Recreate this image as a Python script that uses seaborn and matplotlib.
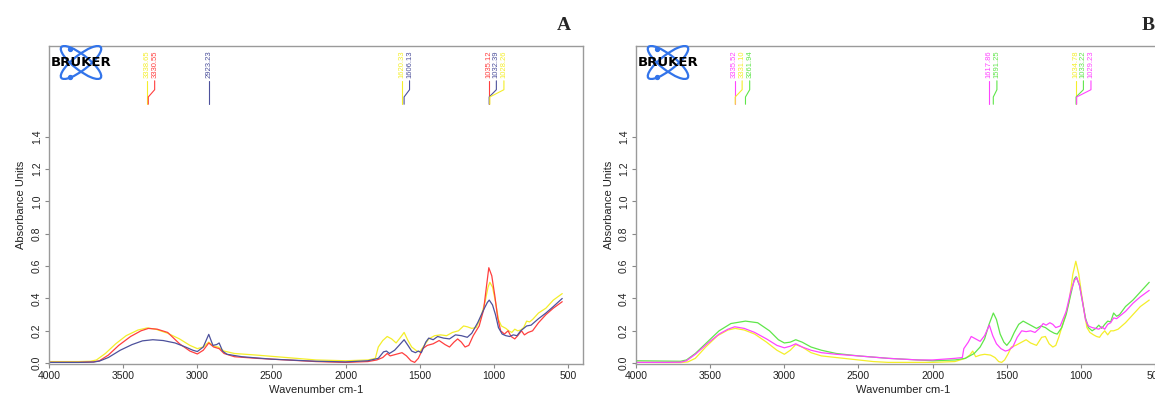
import numpy as np
import pandas as pd
import matplotlib
matplotlib.use("Agg")
import matplotlib.pyplot as plt
import seaborn as sns
from matplotlib.patches import Ellipse

# ---- Panel A spectra ----
A_YELLOW_WN = [4000, 3800, 3720, 3680, 3620, 3550, 3480, 3400, 3338, 3280,
               3200, 3120, 3050, 3000, 2960, 2923, 2890, 2860, 2820, 2750,
               2600, 2400, 2200, 2000, 1850, 1800, 1780, 1750, 1720, 1690,
               1660, 1630, 1606, 1580, 1555, 1520, 1500, 1470, 1440, 1400,
               1360, 1320, 1280, 1240, 1205, 1180, 1150, 1120, 1090, 1060,
               1040, 1028, 1010, 990, 970, 950, 920, 900, 880, 860,
               840, 820, 800, 780, 760, 740, 700, 650, 600, 540]
A_YELLOW_ABS = [0.01, 0.01, 0.012, 0.02, 0.06, 0.12, 0.17, 0.205, 0.218, 0.21,
                0.185, 0.15, 0.11, 0.09, 0.1, 0.13, 0.105, 0.1, 0.075, 0.06,
                0.05, 0.035, 0.02, 0.015, 0.02, 0.03, 0.1, 0.14, 0.165, 0.15,
                0.125, 0.16, 0.19, 0.14, 0.1, 0.075, 0.07, 0.11, 0.15, 0.17,
                0.175, 0.17, 0.19, 0.2, 0.23, 0.225, 0.215, 0.22, 0.28, 0.38,
                0.47, 0.5, 0.47, 0.38, 0.27, 0.23, 0.215, 0.2, 0.19, 0.21,
                0.2, 0.205, 0.22, 0.26, 0.255, 0.27, 0.31, 0.34, 0.39, 0.43]

A_RED_WN = [4000, 3800, 3700, 3660, 3600, 3530, 3450, 3380, 3330, 3270,
            3200, 3120, 3050, 3000, 2960, 2923, 2890, 2853, 2820, 2750,
            2600, 2400, 2200, 2000, 1850, 1790, 1750, 1720, 1700, 1660,
            1620, 1590, 1560, 1535, 1510, 1480, 1450, 1410, 1370, 1330,
            1300, 1270, 1245, 1220, 1195, 1170, 1140, 1100, 1070, 1050,
            1035, 1015, 995, 975, 955, 930, 905, 885, 860, 840,
            815, 795, 770, 740, 700, 650, 600, 540]
A_RED_ABS = [0.005, 0.005, 0.008, 0.015, 0.05, 0.11, 0.165, 0.2, 0.215, 0.21,
             0.19, 0.12, 0.075, 0.057, 0.08, 0.125, 0.1, 0.09, 0.06, 0.04,
             0.03, 0.02, 0.01, 0.005, 0.01, 0.02, 0.035, 0.06, 0.045, 0.055,
             0.065, 0.045, 0.015, 0.005, 0.03, 0.09, 0.11, 0.12, 0.14, 0.115,
             0.1, 0.13, 0.15, 0.13, 0.1, 0.11, 0.17, 0.23, 0.33, 0.48,
             0.59, 0.54, 0.42, 0.28, 0.2, 0.18, 0.2, 0.165, 0.15, 0.17,
             0.2, 0.175, 0.19, 0.2, 0.25, 0.3, 0.34, 0.38]

A_NAVY_WN = [4000, 3800, 3700, 3660, 3600, 3520, 3440, 3370, 3300, 3230,
             3150, 3080, 3030, 3000, 2960, 2923, 2895, 2870, 2853, 2830,
             2800, 2700, 2500, 2200, 2000, 1850, 1780, 1745, 1725, 1705,
             1670, 1640, 1606, 1580, 1555, 1530, 1510, 1490, 1460, 1440,
             1410, 1380, 1340, 1300, 1260, 1220, 1180, 1150, 1110, 1070,
             1045, 1032, 1010, 990, 970, 945, 920, 895, 870, 845,
             820, 800, 780, 750, 700, 650, 600, 540]
A_NAVY_ABS = [0.005, 0.005, 0.007, 0.013, 0.035, 0.08, 0.115, 0.138, 0.145, 0.14,
              0.125, 0.1, 0.08, 0.072, 0.1, 0.178, 0.11, 0.115, 0.125, 0.075,
              0.055, 0.04, 0.025, 0.012, 0.008, 0.015, 0.03, 0.07, 0.075, 0.06,
              0.08, 0.11, 0.145, 0.11, 0.075, 0.065, 0.075, 0.065, 0.13, 0.155,
              0.145, 0.165, 0.155, 0.15, 0.175, 0.17, 0.16, 0.185, 0.25, 0.33,
              0.375, 0.39, 0.36, 0.3, 0.22, 0.18, 0.17, 0.165, 0.175, 0.17,
              0.2, 0.215, 0.23, 0.235, 0.275, 0.31, 0.35, 0.4]

# ---- Panel B spectra ----
B_GREEN_WN = [4000, 3800, 3700, 3660, 3600, 3520, 3440, 3360, 3262, 3180,
              3100, 3040, 3000, 2960, 2923, 2880, 2820, 2750, 2650, 2500,
              2300, 2100, 2000, 1850, 1780, 1720, 1680, 1650, 1620, 1591,
              1570, 1545, 1520, 1500, 1475, 1450, 1420, 1390, 1360, 1330,
              1300, 1270, 1240, 1210, 1180, 1160, 1130, 1100, 1070, 1045,
              1033, 1010, 990, 970, 950, 925, 900, 880, 860, 840,
              820, 800, 780, 760, 740, 700, 650, 600, 540]
B_GREEN_ABS = [0.015, 0.013, 0.012, 0.02, 0.06, 0.13, 0.2, 0.245, 0.26, 0.25,
               0.2, 0.145, 0.125, 0.13, 0.145, 0.13, 0.1, 0.08, 0.06, 0.045,
               0.03, 0.02, 0.015, 0.02, 0.03, 0.06, 0.1, 0.15, 0.24, 0.31,
               0.27, 0.18, 0.13, 0.11, 0.14, 0.19, 0.24, 0.26, 0.245, 0.23,
               0.215, 0.23, 0.22, 0.2, 0.185, 0.18, 0.22, 0.3, 0.42, 0.52,
               0.535, 0.48, 0.38, 0.28, 0.22, 0.2, 0.215, 0.235, 0.215, 0.24,
               0.26, 0.255, 0.31, 0.29, 0.3, 0.35, 0.39, 0.44, 0.5]

B_MAGENTA_WN = [4000, 3800, 3700, 3660, 3600, 3520, 3440, 3380, 3335, 3270,
                3200, 3120, 3050, 3000, 2960, 2923, 2880, 2820, 2750, 2650,
                2500, 2300, 2100, 2000, 1850, 1800, 1790, 1760, 1740, 1710,
                1680, 1650, 1618, 1595, 1570, 1540, 1510, 1490, 1460, 1430,
                1400, 1370, 1340, 1310, 1280, 1255, 1235, 1210, 1190, 1170,
                1140, 1100, 1070, 1045, 1029, 1010, 990, 970, 950, 925,
                900, 880, 860, 840, 820, 800, 780, 760, 740, 700,
                650, 600, 540]
B_MAGENTA_ABS = [0.005, 0.005, 0.006, 0.015, 0.055, 0.12, 0.18, 0.21, 0.225, 0.215,
                 0.19, 0.15, 0.11, 0.095, 0.105, 0.12, 0.1, 0.08, 0.065, 0.055,
                 0.045, 0.03, 0.02, 0.02, 0.03, 0.035, 0.09, 0.13, 0.165, 0.15,
                 0.135, 0.17, 0.235, 0.17, 0.12, 0.09, 0.075, 0.08, 0.1, 0.16,
                 0.2, 0.195, 0.2, 0.19, 0.215, 0.245, 0.235, 0.25, 0.24, 0.22,
                 0.23, 0.32, 0.44, 0.51, 0.53, 0.48, 0.38, 0.27, 0.23, 0.22,
                 0.215, 0.21, 0.225, 0.21, 0.24, 0.25, 0.28, 0.275, 0.29, 0.32,
                 0.37, 0.41, 0.45]

B_YELLOW_WN = [4000, 3800, 3700, 3650, 3600, 3530, 3450, 3380, 3331, 3270,
               3200, 3120, 3050, 3000, 2960, 2923, 2880, 2820, 2750, 2650,
               2500, 2400, 2300, 2000, 1850, 1780, 1750, 1730, 1710, 1680,
               1650, 1610, 1580, 1555, 1535, 1515, 1490, 1470, 1440, 1400,
               1370, 1340, 1300, 1265, 1240, 1215, 1190, 1170, 1150, 1120,
               1080, 1055, 1035, 1015, 995, 975, 960, 940, 915, 895,
               875, 860, 840, 820, 800, 780, 750, 700, 650, 600,
               540]
B_YELLOW_ABS = [0.005, 0.004, 0.004, 0.008, 0.03, 0.1, 0.17, 0.205, 0.215, 0.205,
                0.18, 0.13, 0.08, 0.055, 0.08, 0.115, 0.1, 0.065, 0.045, 0.035,
                0.02, 0.01, 0.005, 0.005, 0.01, 0.03, 0.05, 0.075, 0.04, 0.05,
                0.055, 0.05, 0.035, 0.01, 0.005, 0.02, 0.06, 0.1, 0.11, 0.13,
                0.145, 0.125, 0.11, 0.16, 0.165, 0.12, 0.1, 0.11, 0.16, 0.25,
                0.38, 0.55, 0.63, 0.55, 0.42, 0.3, 0.22, 0.19, 0.175, 0.165,
                0.16, 0.18, 0.2, 0.175, 0.2, 0.2, 0.21, 0.25, 0.3, 0.35,
                0.39]

# ---- peak picks shown at the top of each panel ----
A_PEAK_GROUPS = [[3338.65, 3330.55], [2923.23], [1620.33, 1606.13],
                 [1035.12, 1032.39, 1028.26]]
A_PEAK_SERIES = [["yellow", "red"], ["navy"], ["yellow", "navy"],
                 ["red", "navy", "yellow"]]
B_PEAK_GROUPS = [[3335.52, 3331.10, 3261.94], [1617.86, 1591.25],
                 [1034.78, 1033.22, 1029.23]]
B_PEAK_SERIES = [["magenta", "yellow", "green"], ["magenta", "green"],
                 ["yellow", "green", "magenta"]]

COLORS = {"yellow": "#f4ee2a", "red": "#ff3f3f", "navy": "#4d519c",
          "green": "#5fe64a", "magenta": "#ff44ff"}

X_TICKS = [4000, 3500, 3000, 2500, 2000, 1500, 1000, 500]
Y_TICKS = [0.0, 0.2, 0.4, 0.6, 0.8, 1.0, 1.2, 1.4]

sns.set_style("ticks")
plt.rcParams["font.family"] = ["Liberation Sans", "DejaVu Sans"]

W, H = 1155, 401


def spectra_frame(series):
    frames = [pd.DataFrame({"wn": wn, "abs": ab, "sample": name})
              for name, (wn, ab) in series.items()]
    return pd.concat(frames, ignore_index=True)


def style_axis(ax):
    ax.set_xlim(4000, 400)
    ax.set_ylim(-0.005, 1.96)
    ax.set_xticks(X_TICKS)
    ax.set_xticklabels([str(t) for t in X_TICKS])
    ax.set_yticks(Y_TICKS)
    ax.set_yticklabels([f"{t:.1f}" for t in Y_TICKS], rotation=90, va="center")
    for sp in ax.spines.values():
        sp.set_visible(True)
        sp.set_color("#9a9a9a")
        sp.set_linewidth(1.0)
    ax.tick_params(length=3, width=0.8, color="#888888", labelsize=7.5,
                   labelcolor="#222222", pad=2)
    ax.set_xlabel("Wavenumber cm-1", fontsize=8, labelpad=3, color="#222222")
    ax.set_ylabel("Absorbance Units", fontsize=8, labelpad=4, color="#222222")


def draw_peaks(ax, groups, series):
    for peaks, names in zip(groups, series):
        for i, (wn, name) in enumerate(zip(peaks, names)):
            lab = peaks[0] - 51 * i
            c = COLORS[name]
            ax.plot([lab, lab, wn, wn], [1.745, 1.69, 1.645, 1.60],
                    color=c, lw=0.8)
            ax.text(lab, 1.765, f"{wn:.2f}", rotation=90, ha="center",
                    va="bottom", fontsize=5.5, color=c)


def draw_logo(x0):
    lax = fig.add_axes([x0 / W, (H - 80) / H, 64 / W, 35 / H])
    lax.set_xlim(0, 64)
    lax.set_ylim(0, 35)
    lax.axis("off")
    for ang in (38, -38):
        lax.add_patch(Ellipse((32, 17.5), 50, 15, angle=ang, fill=False,
                              edgecolor="#3274ea", lw=1.6))
    lax.plot([21, 21], [31.5, 3.5], "o", color="#3274ea", ms=2.8)
    lax.text(32, 17, "BRUKER", ha="center", va="center", fontsize=9.5,
             fontweight="bold", color="black", family="DejaVu Sans")


fig = plt.figure(figsize=(W / 100, H / 100), dpi=100)
axA = fig.add_axes([49 / W, 37 / H, 534 / W, 318 / H])
axB = fig.add_axes([636 / W, 37 / H, 534 / W, 318 / H])

dfA = spectra_frame({"yellow": (A_YELLOW_WN, A_YELLOW_ABS),
                     "red": (A_RED_WN, A_RED_ABS),
                     "navy": (A_NAVY_WN, A_NAVY_ABS)})
dfB = spectra_frame({"yellow": (B_YELLOW_WN, B_YELLOW_ABS),
                     "green": (B_GREEN_WN, B_GREEN_ABS),
                     "magenta": (B_MAGENTA_WN, B_MAGENTA_ABS)})

sns.lineplot(data=dfA, x="wn", y="abs", hue="sample", palette=COLORS,
             sort=False, estimator=None, linewidth=0.9, legend=False, ax=axA)
sns.lineplot(data=dfB, x="wn", y="abs", hue="sample", palette=COLORS,
             sort=False, estimator=None, linewidth=0.9, legend=False, ax=axB)

for ax in (axA, axB):
    style_axis(ax)
draw_peaks(axA, A_PEAK_GROUPS, A_PEAK_SERIES)
draw_peaks(axB, B_PEAK_GROUPS, B_PEAK_SERIES)
draw_logo(49)
draw_logo(636)

fig.text(564 / W, 1 - 26 / H, "A", ha="center", va="center", fontsize=14,
         fontweight="bold", family="Liberation Serif")
fig.text(1148 / W, 1 - 26 / H, "B", ha="center", va="center", fontsize=14,
         fontweight="bold", family="Liberation Serif")

fig.savefig("out.png", dpi=100)
